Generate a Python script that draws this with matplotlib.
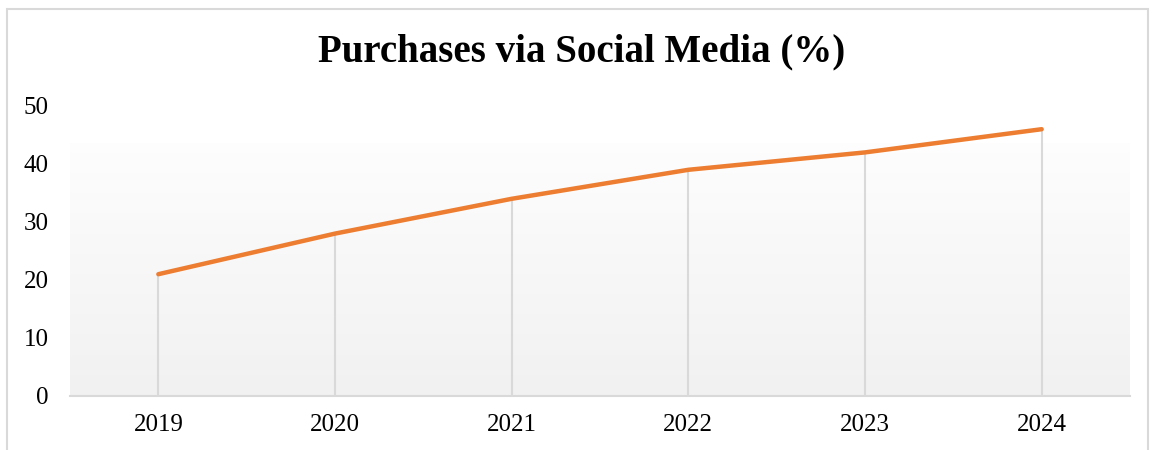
import numpy as np
import matplotlib
matplotlib.use("Agg")
import matplotlib.pyplot as plt
from matplotlib.patches import Rectangle

# data
years = ["2019", "2020", "2021", "2022", "2023", "2024"]
share = [21, 28, 34, 39, 42, 46]
y_ticks = [0, 10, 20, 30, 40, 50]

plt.rcParams['font.family'] = ['Liberation Serif', 'DejaVu Serif']

fig = plt.figure(figsize=(11.53, 4.5), dpi=100)
ax = fig.add_axes([70 / 1153, 1 - 396 / 450, 1060 / 1153, 290 / 450])

xs = np.arange(len(years))

# gradient fill of the plot area (white-ish at top, light gray at bottom)
grad = np.linspace(0.994, 0.945, 256).reshape(-1, 1)
ax.imshow(np.dstack([grad, grad, grad]), extent=(-0.5, len(years) - 0.5, 0, 43.5),
          origin='upper', aspect='auto', zorder=0, interpolation='bicubic')
ax.set_xlim(-0.5, len(years) - 0.5)
ax.set_ylim(0, 50)

# drop lines
ax.vlines(xs, 0, share, color='#d9d9d9', lw=1.5, zorder=1)
ax.plot(xs, share, color='#ED7D31', lw=3.2, solid_capstyle='round', zorder=3)

ax.set_xticks(xs)
ax.set_xticklabels(years, fontsize=18)
ax.set_yticks(y_ticks)
ax.set_yticklabels([str(v) for v in y_ticks], fontsize=18)
ax.tick_params(length=0)
ax.tick_params(axis='x', pad=13)
ax.tick_params(axis='y', pad=15.5)

for s in ['top', 'right', 'left']:
    ax.spines[s].set_visible(False)
ax.spines['bottom'].set_color('#d9d9d9')
ax.spines['bottom'].set_linewidth(1.5)
ax.set_facecolor('white')

fig.text(582 / 1153, 1 - 52 / 450, "Purchases via Social Media (%)", ha='center', va='center',
         fontsize=28, fontweight='bold')

# chart border
fig.patches.append(Rectangle((7 / 1153, -0.05), 1141 / 1153, 1 - 9 / 450 + 0.05,
                             transform=fig.transFigure, fill=False, edgecolor='#d9d9d9', lw=1.5))

fig.savefig("out.png", dpi=100)
